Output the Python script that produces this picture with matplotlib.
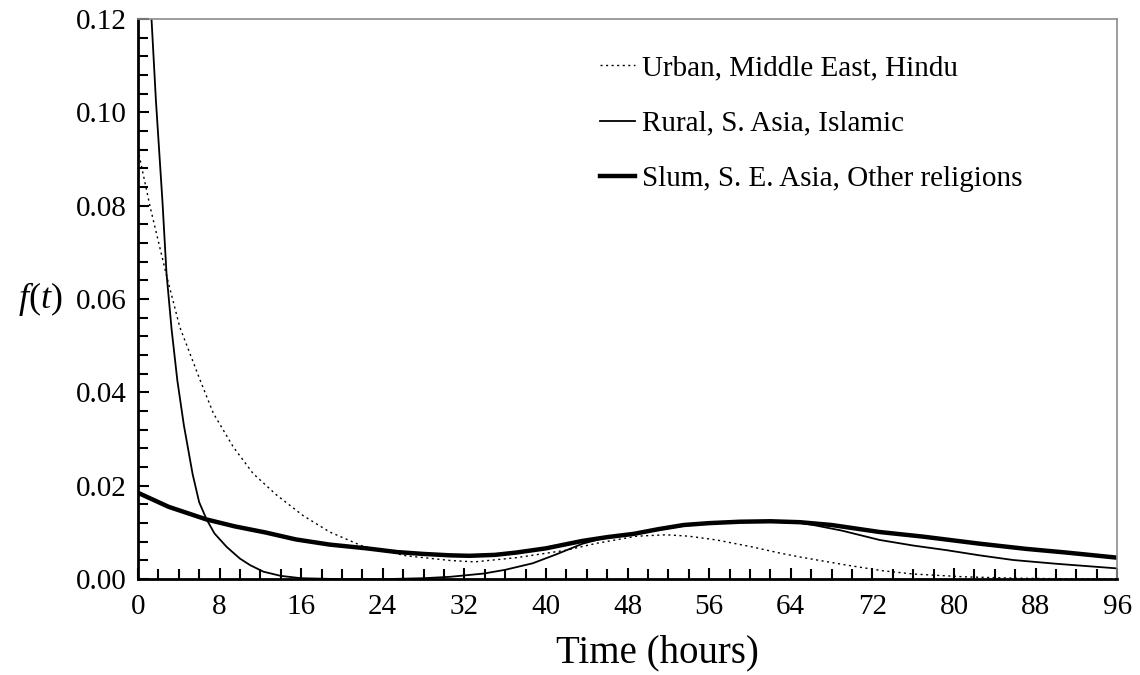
import matplotlib.pyplot as plt
from matplotlib.ticker import MultipleLocator, FormatStrFormatter

# hours / density readings for each group
t_urban = [0, 1.2, 2.75, 4.1, 6.1, 7.4, 9.35, 11.3, 13.6, 16.2, 18.8, 22.1, 26.3, 30.6, 33, 37.1,
           42, 45, 48.9, 51.8, 54, 56.7, 60, 62.9, 65, 69.5, 73, 76, 81, 86, 90, 96]
f_urban = [0.092, 0.0797, 0.0655, 0.054, 0.0426, 0.0355, 0.0283, 0.0226, 0.0180, 0.0136, 0.0101,
           0.0070, 0.0050, 0.0040, 0.0037, 0.0046, 0.0062, 0.0077, 0.0092, 0.0095, 0.0092, 0.0084,
           0.0070, 0.0056, 0.0047, 0.0030, 0.0018, 0.0011, 0.0005, 0.0002, 0.0001, 0.0]

t_rural = [0, 1.33, 1.76, 2.4, 2.8, 3.3, 3.86, 4.5, 5.36, 6, 6.73, 7.5, 8.7, 10, 11, 12.3, 14, 16,
           20, 24, 28, 30.6, 33.9, 36, 38.7, 41, 43.6, 45.5, 47.6, 50, 53.5, 56, 59, 62, 65, 66.2,
           69, 72.7, 76, 79.3, 82.5, 85.8, 90, 93, 96]
f_rural = [0.19, 0.12, 0.1026, 0.081, 0.0655, 0.0535, 0.0426, 0.033, 0.0225, 0.0165, 0.0128,
           0.0098, 0.0069, 0.0044, 0.0030, 0.0016, 0.0007, 0.0002, 0.0, 0.0, 0.0002, 0.0005,
           0.0012, 0.0020, 0.0034, 0.0053, 0.0076, 0.0087, 0.0094, 0.0102, 0.0114, 0.0120,
           0.0123, 0.0123, 0.0120, 0.0116, 0.0104, 0.0084, 0.0072, 0.0062, 0.0051, 0.0041,
           0.0033, 0.0028, 0.0023]

t_slum = [0, 3, 6.7, 9.5, 12.5, 15.5, 18.8, 22.4, 25.4, 28, 30.6, 32.5, 35, 37.1, 40, 43.6, 46,
          48.6, 51, 53.5, 56, 59, 62, 64.9, 68, 72.7, 77, 82.5, 87, 91, 96]
f_slum = [0.0185, 0.0155, 0.0128, 0.0113, 0.0100, 0.0085, 0.0074, 0.0066, 0.0058, 0.0054, 0.0051,
          0.0050, 0.0052, 0.0057, 0.0066, 0.0082, 0.0090, 0.0097, 0.0107, 0.0116, 0.0120, 0.0123,
          0.0124, 0.0122, 0.0116, 0.0101, 0.0091, 0.0076, 0.0065, 0.0057, 0.0046]

labels = ["Urban, Middle East, Hindu", "Rural, S. Asia, Islamic", "Slum, S. E. Asia, Other religions"]


def main():
    plt.rcParams['font.family'] = ['Liberation Serif', 'DejaVu Serif']
    plt.rcParams['mathtext.fontset'] = 'custom'
    plt.rcParams['mathtext.rm'] = 'Liberation Serif'
    plt.rcParams['mathtext.it'] = 'Liberation Serif:italic'

    fig = plt.figure(figsize=(11.4, 6.75), dpi=100)
    ax = fig.add_axes([0.121, 0.142, 0.859, 0.830])

    ax.plot(t_urban, f_urban, color='black', lw=1.0, dashes=(1.5, 2.5), label=labels[0])
    ax.plot(t_rural, f_rural, color='black', lw=1.3, label=labels[1])
    ax.plot(t_slum, f_slum, color='black', lw=3.2, label=labels[2])

    ax.set_xlim(0, 96)
    ax.set_ylim(0, 0.12)
    ax.xaxis.set_major_locator(MultipleLocator(8))
    ax.xaxis.set_minor_locator(MultipleLocator(2))
    ax.yaxis.set_major_locator(MultipleLocator(0.02))
    ax.yaxis.set_minor_locator(MultipleLocator(0.004))
    ax.yaxis.set_major_formatter(FormatStrFormatter('%.2f'))

    ax.tick_params(which='both', direction='in', top=False, right=False, width=1.5, color='black')
    ax.tick_params(which='major', length=8)
    ax.tick_params(which='minor', length=7.5)
    ax.tick_params(axis='x', which='major', labelsize=21, pad=11)
    ax.tick_params(axis='y', which='major', labelsize=21, pad=8)

    for side in ['left', 'bottom']:
        ax.spines[side].set_linewidth(2.0)
        ax.spines[side].set_color('black')
    for side in ['top', 'right']:
        ax.spines[side].set_linewidth(1.2)
        ax.spines[side].set_color('#8c8c8c')

    ax.set_xlabel('Time (hours)', fontsize=28)
    ax.xaxis.set_label_coords(0.53, -0.098, transform=ax.transAxes)
    ax.set_ylabel(r'$f$($t$)', fontsize=26, rotation=0, va='center')
    ax.yaxis.set_label_coords(-0.1, 0.5)

    ax.legend(loc='upper left', bbox_to_anchor=(0.472, 0.936), frameon=False, fontsize=21,
              handlelength=1.2, handletextpad=0.25, labelspacing=1.0, borderpad=0,
              borderaxespad=0)

    plt.savefig('out.png', dpi=100)


if __name__ == "__main__":
    main()
